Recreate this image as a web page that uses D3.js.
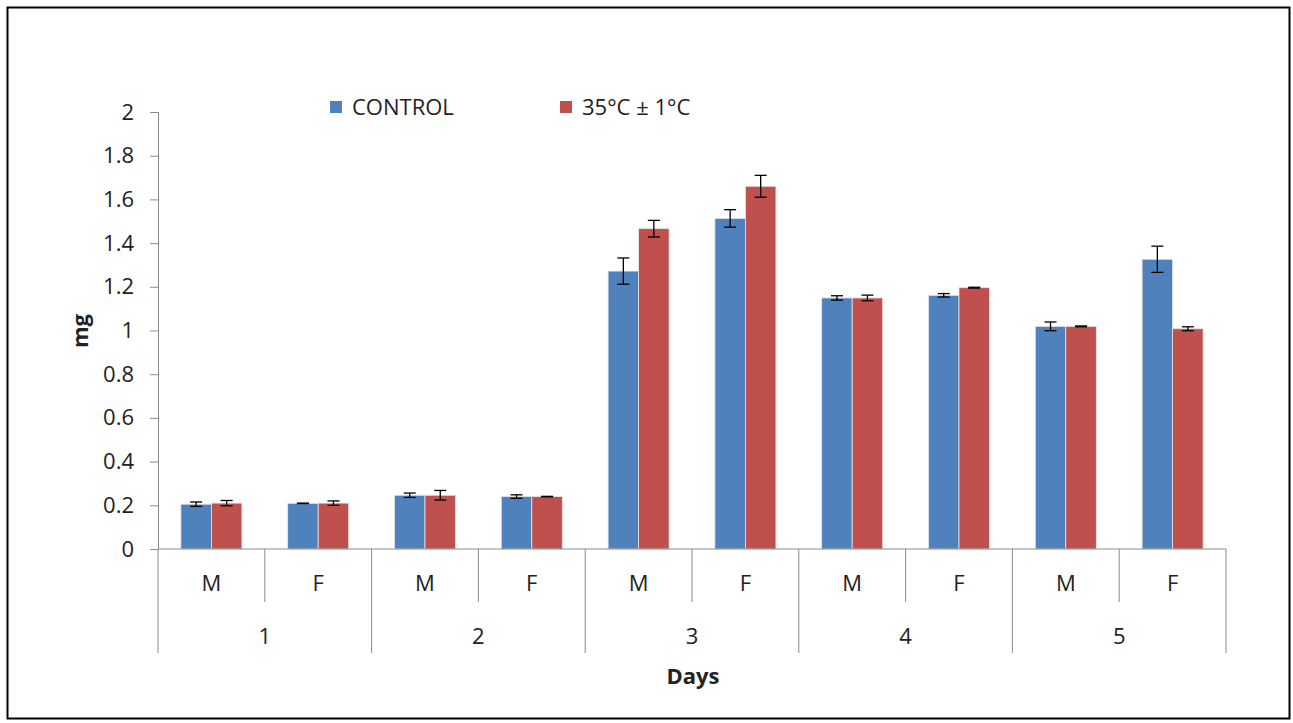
<!DOCTYPE html>
<html>
<head>
<meta charset="utf-8">
<script src="https://cdn.jsdelivr.net/npm/d3@7"></script>
<style>
  body { margin: 0; background: #fff; }
  text { font-family: "Open Sans", "Liberation Sans", sans-serif; fill: #222; }
</style>
</head>
<body>
<svg id="chart" width="1293" height="723"></svg>
<script>
// DATA
const days = ["1", "2", "3", "4", "5"];
const sexes = ["M", "F"];
const seriesNames = ["CONTROL", "35°C ± 1°C"];
const controlValues = [0.205, 0.209, 0.246, 0.24, 1.272, 1.513, 1.149, 1.161, 1.019, 1.326];
const controlErrors = [0.01, 0.001, 0.01, 0.008, 0.06, 0.04, 0.01, 0.008, 0.02, 0.06];
const heatValues = [0.21, 0.21, 0.246, 0.24, 1.466, 1.66, 1.149, 1.196, 1.019, 1.008];
const heatErrors = [0.012, 0.01, 0.022, 0.001, 0.038, 0.05, 0.013, 0.002, 0.002, 0.009];
const yTicks = [0, 0.2, 0.4, 0.6, 0.8, 1, 1.2, 1.4, 1.6, 1.8, 2];
const colors = ["#4F81BD", "#C0504D"];

// CANVAS SETUP
const svg = d3.select("#chart");
const margin = { top: 112, left: 158 },
  width = 1226 - 158,
  height = 549 - 112;
const fs = "22px";

svg.append("rect")
  .attr("x", 7.5).attr("y", 7.5)
  .attr("width", 1282).attr("height", 711)
  .attr("fill", "none").attr("stroke", "#000").attr("stroke-width", 2);

const g = svg.append("g").attr("transform", `translate(${margin.left},${margin.top})`);

// categories: day + sex
const cats = [];
days.forEach((d) => sexes.forEach((s) => cats.push({ day: d, sex: s, key: d + s })));

const rows = cats.map((c, i) => ({
  ...c,
  vals: [
    { s: 0, v: controlValues[i], e: controlErrors[i] },
    { s: 1, v: heatValues[i], e: heatErrors[i] },
  ],
}));

const xScale = d3.scaleBand()
  .domain(cats.map((c) => c.key))
  .range([0, width])
  .paddingInner(0)
  .paddingOuter(0);

// bars take 2 units, gap 1.5 units
const barW = xScale.bandwidth() / 3.5;
const xInner = d3.scaleBand().domain([0, 1]).range([barW * 0.75, barW * 2.75]);

const yScale = d3.scaleLinear().domain([0, 2]).range([height, 0]);

// Y AXIS
const yAxis = g.append("g")
  .call(d3.axisLeft(yScale).tickValues(yTicks).tickSize(8).tickPadding(16).tickFormat(d3.format("")));
yAxis.select(".domain").attr("stroke", "#8c8c8c");
yAxis.selectAll(".tick line").attr("stroke", "#8c8c8c");
yAxis.selectAll("text").style("font-size", fs).attr("fill", "#222");

// BARS
const groups = g.selectAll(".cat").data(rows).join("g")
  .attr("class", "cat")
  .attr("transform", (d) => `translate(${xScale(d.key)},0)`);

groups.selectAll("rect").data((d) => d.vals).join("rect")
  .attr("x", (d) => xInner(d.s))
  .attr("width", xInner.bandwidth())
  .attr("y", (d) => yScale(d.v))
  .attr("height", (d) => height - yScale(d.v))
  .attr("fill", (d) => colors[d.s])
  .attr("stroke", "#e6e6e6")
  .attr("stroke-width", 0.8);

// ERROR BARS
const eb = groups.selectAll(".err").data((d) => d.vals).join("g")
  .attr("class", "err")
  .attr("transform", (d) => `translate(${xInner(d.s) + xInner.bandwidth() / 2},0)`)
  .attr("stroke", "#000")
  .attr("stroke-width", 1.3);
eb.append("line")
  .attr("y1", (d) => yScale(d.v + d.e)).attr("y2", (d) => yScale(d.v - d.e));
eb.append("line").attr("x1", -6).attr("x2", 6)
  .attr("y1", (d) => yScale(d.v + d.e)).attr("y2", (d) => yScale(d.v + d.e));
eb.append("line").attr("x1", -6).attr("x2", 6)
  .attr("y1", (d) => yScale(d.v - d.e)).attr("y2", (d) => yScale(d.v - d.e));

// X AXIS (two-level)
const gx = g.append("g").attr("transform", `translate(0,${height})`);
gx.append("line").attr("x1", 0).attr("x2", width).attr("stroke", "#8c8c8c");

const bounds = d3.range(cats.length + 1);
gx.selectAll(".sep").data(bounds).join("line")
  .attr("class", "sep")
  .attr("x1", (i) => i * xScale.step()).attr("x2", (i) => i * xScale.step())
  .attr("y1", 0)
  .attr("y2", (i) => (i % 2 === 0 ? 104 : 53))
  .attr("stroke", "#8c8c8c");

gx.selectAll(".sexlab").data(cats).join("text")
  .attr("class", "sexlab")
  .attr("x", (d) => xScale(d.key) + xScale.bandwidth() / 2)
  .attr("y", 42)
  .attr("text-anchor", "middle")
  .style("font-size", fs)
  .text((d) => d.sex);

gx.selectAll(".daylab").data(days).join("text")
  .attr("class", "daylab")
  .attr("x", (d) => xScale(d + "M") + xScale.step())
  .attr("y", 95)
  .attr("text-anchor", "middle")
  .style("font-size", fs)
  .text((d) => d);

// AXIS TITLES
svg.append("text")
  .attr("x", 693).attr("y", 684)
  .attr("text-anchor", "middle")
  .style("font-size", fs).style("font-weight", "bold")
  .text("Days");

svg.append("text")
  .attr("transform", "translate(88,331) rotate(-90)")
  .attr("text-anchor", "middle")
  .style("font-size", fs).style("font-weight", "bold")
  .text("mg");

// LEGEND
const legendX = [330, 560];
const legend = svg.selectAll(".legend").data(seriesNames).join("g")
  .attr("class", "legend")
  .attr("transform", (d, i) => `translate(${legendX[i]},101)`);
legend.append("rect").attr("width", 12).attr("height", 12).attr("fill", (d, i) => colors[i]);
legend.append("text").attr("x", 22).attr("y", 14).style("font-size", fs).text((d) => d);
</script>
</body>
</html>
